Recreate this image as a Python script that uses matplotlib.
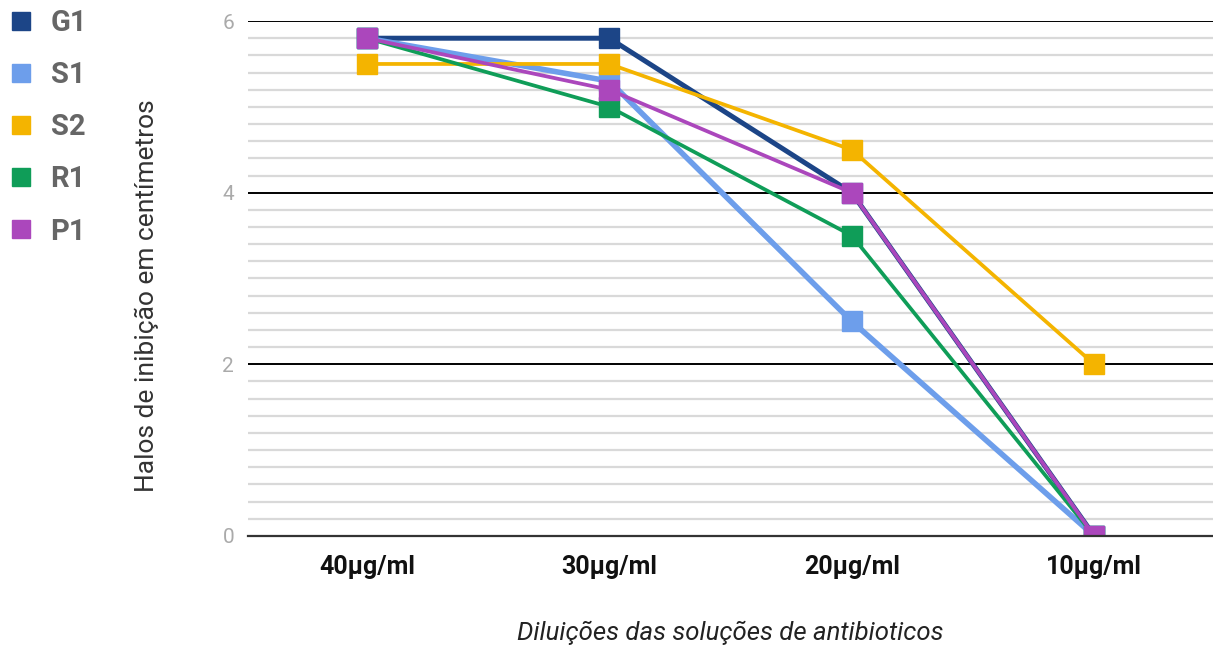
import matplotlib.pyplot as plt
from matplotlib.lines import Line2D
from matplotlib.ticker import MultipleLocator

plt.rcParams['font.family'] = ['Roboto', 'DejaVu Sans']

categories = ['40µg/ml', '30µg/ml', '20µg/ml', '10µg/ml']
names = ['G1', 'S1', 'S2', 'R1', 'P1']
g1 = [5.8, 5.8, 4.0, 0.0]
s1 = [5.8, 5.3, 2.5, 0.0]
s2 = [5.5, 5.5, 4.5, 2.0]
r1 = [5.8, 5.0, 3.5, 0.0]
p1 = [5.8, 5.2, 4.0, 0.0]
series = [g1, s1, s2, r1, p1]
colors = ['#1c4587', '#6d9eeb', '#f4b400', '#0f9d58', '#ab47bc']
widths = [3.6, 4.0, 2.7, 2.7, 2.7]

fig = plt.figure(figsize=(12.13, 6.48), dpi=100)
ax = fig.add_axes([0.2045, 0.173, 0.7955, 0.7945])

x = range(len(categories))
for vals, c, lw in zip(series, colors, widths):
    ax.plot(x, vals, color=c, lw=lw, marker='s', markersize=14.5, solid_joinstyle='round')

ax.set_xlim(-0.49, 3.49)
ax.set_ylim(0, 6)
ax.yaxis.set_major_locator(MultipleLocator(2))
ax.yaxis.set_minor_locator(MultipleLocator(0.2))
ax.grid(which='minor', axis='y', color='#d9d9d9', lw=1.6)
ax.grid(which='major', axis='y', color='#000000', lw=1.4)
ax.set_axisbelow(True)
for s in ['top', 'right', 'left']:
    ax.spines[s].set_visible(False)
ax.spines['bottom'].set_color('#333333')
ax.spines['bottom'].set_linewidth(1.6)
ax.tick_params(axis='both', which='both', length=0)
ax.tick_params(axis='y', labelsize=15, labelcolor='#aaaaaa', pad=10)
ax.set_xticks(list(x))
ax.set_xticklabels(categories, fontsize=18, fontweight='bold', color='#111111')
ax.tick_params(axis='x', pad=14)
ax.set_xlabel('Diluições das soluções de antibioticos', fontsize=18.5, style='italic',
              color='#222222', labelpad=30)
ax.set_ylabel('Halos de inibição em centímetros', fontsize=19, color='#333333')
ax.yaxis.set_label_coords(-0.092, 0.466)

handles = [Line2D([], [], color=c, marker='s', linestyle='none', markersize=13) for c in colors]
fig.legend(handles, names, loc='upper left', bbox_to_anchor=(-0.016, 1.027), frameon=False,
           prop={'size': 21, 'weight': 'bold'}, labelcolor='#666666',
           handletextpad=0.5, labelspacing=0.83, handlelength=1.0)

plt.savefig('out.png', dpi=100)
